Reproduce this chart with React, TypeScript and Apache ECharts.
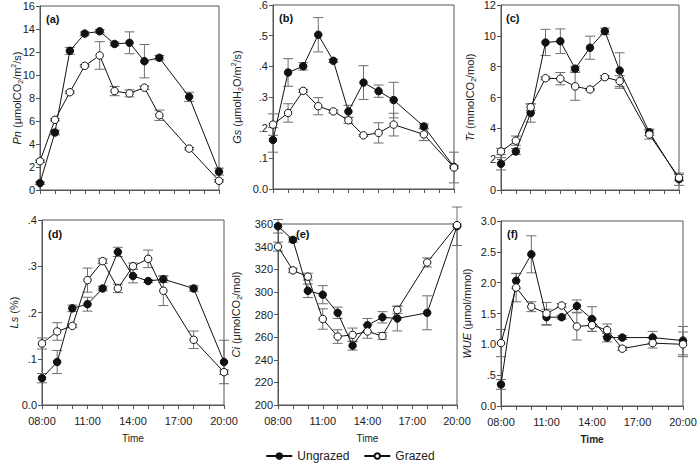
import React, { useEffect, useRef } from "react";
import * as echarts from "echarts";

const hours = [8, 9, 10, 11, 12, 13, 14, 15, 16, 18, 20];

const pnUngrazed = [0.6, 5.0, 12.1, 13.6, 13.8, 12.7, 12.8, 11.2, 11.5, 8.1, 1.6];
const pnUngrazedErr = [0.1, 0.2, 0.3, 0.15, 0.15, 0.15, 0.95, 1.45, 0.2, 0.4, 0.3];
const pnGrazed = [2.5, 6.1, 8.5, 10.8, 11.7, 8.6, 8.4, 8.9, 6.5, 3.6, 0.8];
const pnGrazedErr = [0.1, 0.1, 0.1, 0.1, 1.2, 0.4, 0.3, 0.15, 0.45, 0.1, 0.1];

const gsUngrazed = [0.16, 0.38, 0.4, 0.503, 0.418, 0.253, 0.347, 0.319, 0.29, 0.204, 0.072];
const gsUngrazedErr = [0.04, 0.045, 0.012, 0.056, 0.005, 0.02, 0.055, 0.02, 0.058, 0.008, 0.004];
const gsGrazed = [0.21, 0.248, 0.32, 0.27, 0.253, 0.224, 0.175, 0.183, 0.21, 0.178, 0.07];
const gsGrazedErr = [0.035, 0.03, 0.005, 0.028, 0.005, 0.01, 0.003, 0.033, 0.037, 0.02, 0.05];

const trUngrazed = [1.7, 2.5, 5.0, 9.57, 9.65, 7.87, 9.23, 10.3, 7.75, 3.75, 0.7];
const trUngrazedErr = [0.4, 0.2, 0.6, 0.85, 0.8, 0.15, 0.75, 0.2, 1.15, 0.2, 0.4];
const trGrazed = [2.5, 3.2, 5.37, 7.25, 7.22, 6.72, 6.52, 7.32, 7.06, 3.6, 0.8];
const trGrazedErr = [0.2, 0.3, 0.2, 0.1, 0.4, 0.9, 0.05, 0.1, 0.35, 0.3, 0.2];

const lsUngrazed = [0.058, 0.093, 0.209, 0.218, 0.252, 0.331, 0.279, 0.268, 0.272, 0.252, 0.093];
const lsUngrazedErr = [0.01, 0.025, 0.007, 0.015, 0.005, 0.01, 0.015, 0.003, 0.007, 0.006, 0.047];
const lsGrazed = [0.133, 0.159, 0.171, 0.27, 0.311, 0.252, 0.3, 0.316, 0.247, 0.141, 0.071];
const lsGrazedErr = [0.012, 0.019, 0.004, 0.026, 0.005, 0.009, 0.007, 0.019, 0.032, 0.019, 0.005];

const ciUngrazed = [358, 346, 301, 297.5, 281.5, 252.5, 270.5, 277.5, 276.5, 281.5, 358];
const ciUngrazedErr = [6, 2, 6, 8, 5, 4, 6, 5, 11, 15, 17];
const ciGrazed = [340, 319, 313.5, 276, 260.5, 262, 265, 261, 284, 326, 359];
const ciGrazedErr = [4, 2, 3, 9, 6, 6, 6, 3, 3, 4, 1];

const wueUngrazed = [0.35, 2.03, 2.46, 1.44, 1.44, 1.62, 1.41, 1.11, 1.11, 1.11, 1.06];
const wueUngrazedErr = [0.08, 0.12, 0.3, 0.13, 0.03, 0.1, 0.2, 0.07, 0.03, 0.1, 0.23];
const wueGrazed = [1.02, 1.92, 1.61, 1.5, 1.63, 1.29, 1.31, 1.23, 0.93, 1.02, 1.0];
const wueGrazedErr = [0.22, 0.23, 0.08, 0.18, 0.03, 0.22, 0.1, 0.1, 0.03, 0.08, 0.2];

const panelLetters = ["(a)", "(b)", "(c)", "(d)", "(e)", "(f)"];
const timeLabel = "Time";
const legendNames = ["Ungrazed", "Grazed"];

const FONT = "'Liberation Sans', Arial, sans-serif";

const grids = [
  { left: 40, top: 6, width: 179, height: 184 },
  { left: 273, top: 5, width: 181, height: 184 },
  { left: 501, top: 5, width: 178, height: 185 },
  { left: 42, top: 220, width: 182, height: 185 },
  { left: 278, top: 224, width: 179, height: 181 },
  { left: 501, top: 221, width: 182, height: 185 },
];

const yRanges = [
  { min: 0, max: 16, interval: 2 },
  { min: 0, max: 0.6, interval: 0.1 },
  { min: 0, max: 12, interval: 2 },
  { min: 0, max: 0.4, interval: 0.1 },
  { min: 200, max: 360, interval: 20 },
  { min: 0, max: 3, interval: 0.5 },
];

const yNames = [
  "{i|Pn}{n| (μmolCO}{sub|2}{n|/m}{sup|2}{n|/s)}",
  "{i|Gs}{n| (μmolH}{sub|2}{n|O/m}{sup|2}{n|/s)}",
  "{i|Tr}{n| (mmolCO}{sub|2}{n|/mol)}",
  "{i|Ls}{n| (%)}",
  "{i|Ci}{n| (μmolCO}{sub|2}{n|/mol)}",
  "{i|WUE}{n| (μmol/mmol)}",
];
const yNameGaps = [16, 29, 24, 21, 35, 27];

const fmtDecimal = (v: number) => {
  if (Math.abs(v) < 1e-9) return "0.0";
  const s = v.toFixed(1);
  return s.startsWith("0") ? s.slice(1) : s;
};
const fmtInt = (v: number) => String(Math.round(v));
const yFormatters = [fmtInt, fmtDecimal, fmtInt, fmtDecimal, fmtInt, fmtDecimal];

const panels = [
  [pnUngrazed, pnUngrazedErr, pnGrazed, pnGrazedErr],
  [gsUngrazed, gsUngrazedErr, gsGrazed, gsGrazedErr],
  [trUngrazed, trUngrazedErr, trGrazed, trGrazedErr],
  [lsUngrazed, lsUngrazedErr, lsGrazed, lsGrazedErr],
  [ciUngrazed, ciUngrazedErr, ciGrazed, ciGrazedErr],
  [wueUngrazed, wueUngrazedErr, wueGrazed, wueGrazedErr],
];

const rich = {
  i: { fontStyle: "italic", fontSize: 11, fontFamily: FONT, color: "#222", lineHeight: 14, verticalAlign: "middle" },
  n: { fontSize: 11, fontFamily: FONT, color: "#222", lineHeight: 14, verticalAlign: "middle" },
  sub: { fontSize: 7, fontFamily: FONT, color: "#222", lineHeight: 14, verticalAlign: "bottom", padding: [6, 0, 0, 0] },
  sup: { fontSize: 7, fontFamily: FONT, color: "#222", lineHeight: 14, verticalAlign: "top", padding: [0, 0, 5, 0] },
};

function errorSeries(idx: number, vals: number[], errs: number[]) {
  return {
    type: "custom",
    xAxisIndex: idx,
    yAxisIndex: idx,
    silent: true,
    z: 1,
    data: hours.map((h, k) => [h, vals[k] - errs[k], vals[k] + errs[k]]),
    renderItem: (params: any, api: any) => {
      const x = api.value(0);
      const lo = api.coord([x, api.value(1)]);
      const hi = api.coord([x, api.value(2)]);
      const cap = 5;
      const style = { stroke: "#6e6e6e", lineWidth: 1 };
      return {
        type: "group",
        children: [
          { type: "line", shape: { x1: lo[0], y1: lo[1], x2: hi[0], y2: hi[1] }, style },
          { type: "line", shape: { x1: lo[0] - cap, y1: lo[1], x2: lo[0] + cap, y2: lo[1] }, style },
          { type: "line", shape: { x1: hi[0] - cap, y1: hi[1], x2: hi[0] + cap, y2: hi[1] }, style },
        ],
      };
    },
  };
}

function lineSeries(idx: number, name: string, vals: number[], filled: boolean) {
  return {
    type: "line",
    name,
    xAxisIndex: idx,
    yAxisIndex: idx,
    z: filled ? 3 : 4,
    data: hours.map((h, k) => [h, vals[k]]),
    symbol: "circle",
    symbolSize: 7.5,
    showSymbol: true,
    lineStyle: { color: "#111", width: 1 },
    itemStyle: { color: filled ? "#111" : "#fff", borderColor: "#111", borderWidth: 1 },
  };
}

export default function App() {
  const ref = useRef<HTMLDivElement>(null);
  useEffect(() => {
    if (!ref.current) return;
    const chart = echarts.init(ref.current, undefined, { renderer: "svg" });

    const xAxes = grids.map((_, i) => ({
      type: "value",
      gridIndex: i,
      min: 8,
      max: 20,
      interval: 1,
      name: i >= 3 ? timeLabel : "",
      nameLocation: "middle",
      nameGap: 28,
      nameMoveOverlap: false,
      nameTextStyle: {
        fontFamily: FONT,
        fontSize: 10,
        color: "#222",
        fontWeight: i === 5 ? "bold" : "normal",
      },
      axisLine: { show: true, lineStyle: { color: "#555", width: 1 } },
      axisTick: { show: true, inside: false, length: 4, lineStyle: { color: "#555" } },
      axisLabel: {
        show: i >= 3,
        fontFamily: FONT,
        fontSize: 11,
        color: "#222",
        margin: 10,
        showMinLabel: true,
        showMaxLabel: true,
        formatter: (v: number) =>
          (v - 8) % 3 === 0 ? `${String(v).padStart(2, "0")}:00` : "",
      },
      splitLine: { show: false },
    }));

    const yAxes = grids.map((_, i) => ({
      type: "value",
      gridIndex: i,
      ...yRanges[i],
      name: yNames[i],
      nameLocation: "middle",
      nameGap: yNameGaps[i],
      nameRotate: 90,
      nameMoveOverlap: false,
      nameTextStyle: { rich },
      axisLine: { show: true, lineStyle: { color: "#555", width: 1 } },
      axisTick: { show: true, inside: false, length: 4, lineStyle: { color: "#555" } },
      axisLabel: {
        fontFamily: FONT,
        fontSize: 11,
        color: "#222",
        margin: 5,
        showMinLabel: true,
        showMaxLabel: true,
        formatter: yFormatters[i],
      },
      splitLine: { show: false },
    }));

    const series: any[] = [];
    panels.forEach((p, i) => {
      series.push(errorSeries(i, p[0], p[1]));
      series.push(errorSeries(i, p[2], p[3]));
      series.push(lineSeries(i, legendNames[0], p[0], true));
      series.push(lineSeries(i, legendNames[1], p[2], false));
    });

    const letterPos = [
      [46, 13],
      [279, 12],
      [506, 12],
      [48, 228],
      [296, 228],
      [507, 228],
    ];

    chart.setOption({
      animation: false,
      backgroundColor: "#fff",
      grid: grids.map((g) => ({
        ...g,
        show: true,
        borderColor: "#555",
        borderWidth: 1,
        backgroundColor: "transparent",
        containLabel: false,
        outerBoundsMode: "none",
      })),
      xAxis: xAxes,
      yAxis: yAxes,
      legend: {
        data: legendNames,
        left: "center",
        top: 445,
        itemWidth: 26,
        itemHeight: 7,
        itemGap: 14,
        textStyle: { fontFamily: FONT, fontSize: 12, color: "#222" },
      },
      graphic: letterPos.map((pos, i) => ({
        type: "text",
        x: pos[0],
        y: pos[1],
        style: {
          text: panelLetters[i],
          font: `bold 11px ${FONT}`,
          fill: "#111",
        },
      })),
      series,
    });

    return () => chart.dispose();
  }, []);

  return (
    <div
      ref={ref}
      style={{ position: "absolute", left: 0, top: 0, width: 700, height: 465 }}
    />
  );
}
